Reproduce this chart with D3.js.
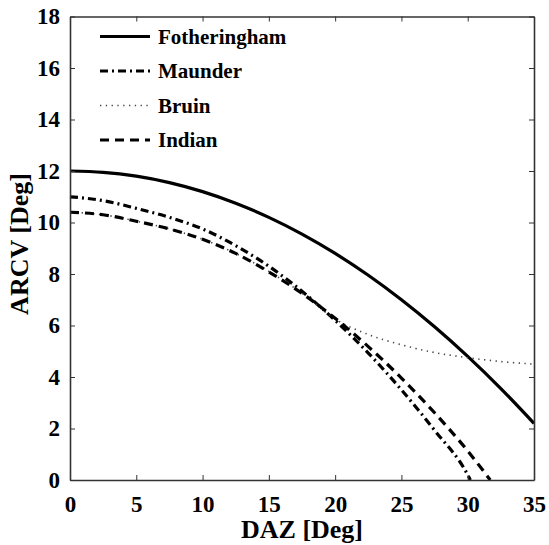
<!DOCTYPE html>
<html>
<head>
<meta charset="utf-8">
<script src="https://cdn.jsdelivr.net/npm/d3@7"></script>
<style>
  body { margin: 0; background: #fff; }
  text { font-family: "Liberation Serif", "Times New Roman", serif; font-weight: bold; }
</style>
</head>
<body>
<script>
// Data (DAZ in degrees -> ARCV in degrees)
var daz = [0, 2.5, 5, 7.5, 10, 12.5, 15, 17.5, 20, 22.5, 25, 27.5, 30, 32.5, 35];
var fotheringham = [12.0, 11.95, 11.8, 11.55, 11.2, 10.75, 10.2, 9.55, 8.8, 7.95, 7.0, 5.95, 4.8, 3.55, 2.2];
var bruin = [10.4, 10.3, 10.05, 9.75, 9.35, 8.8, 8.1, 7.25, 6.25, 5.65, 5.25, 4.95, 4.75, 4.6, 4.5];

var dazMaunder = [0, 2.5, 5, 7.5, 10, 12.5, 15, 17.5, 20, 22.5, 25, 27.5, 30, 30.2];
var maunder = [11.0, 10.85, 10.55, 10.2, 9.75, 9.1, 8.3, 7.33, 6.2, 4.93, 3.5, 1.93, 0.2, 0];

var dazIndian = [0, 2.5, 5, 7.5, 10, 12.5, 15, 17.5, 20, 22.5, 25, 27.5, 30, 31.7];
var indian = [10.4, 10.3, 10.05, 9.75, 9.35, 8.8, 8.08, 7.25, 6.28, 5.18, 3.96, 2.61, 1.13, 0];

var xTicks = [0, 5, 10, 15, 20, 25, 30, 35];
var yTicks = [0, 2, 4, 6, 8, 10, 12, 14, 16, 18];

var seriesNames = ["Fotheringham", "Maunder", "Bruin", "Indian"];

// SVG area
var svgWidth = 549;
var svgHeight = 545;
var margin = { top: 16.5, right: 15, bottom: 65, left: 70 };
var chartWidth = svgWidth - margin.left - margin.right;
var chartHeight = svgHeight - margin.top - margin.bottom;

var svg = d3.select("body")
            .append("svg")
            .attr("width", svgWidth)
            .attr("height", svgHeight);

var chartGroup = svg.append("g")
                    .attr("transform", `translate(${margin.left}, ${margin.top})`);

var x = d3.scaleLinear().domain([0, 35]).range([0, chartWidth]);
var y = d3.scaleLinear().domain([0, 18]).range([chartHeight, 0]);

// line styles per series
var styles = {
  Fotheringham: { width: 3.2, dash: null, color: "#000" },
  Maunder: { width: 3.2, dash: "8,4,2,4", color: "#000" },
  Bruin: { width: 1.6, dash: "1.3,4.5", color: "#444" },
  Indian: { width: 3.2, dash: "9,6", color: "#000" }
};

var seriesData = {
  Fotheringham: daz.map((d, i) => [d, fotheringham[i]]),
  Maunder: dazMaunder.map((d, i) => [d, maunder[i]]),
  Bruin: daz.map((d, i) => [d, bruin[i]]),
  Indian: dazIndian.map((d, i) => [d, indian[i]])
};

var line = d3.line()
             .x(d => x(d[0]))
             .y(d => y(d[1]))
             .curve(d3.curveMonotoneX);

seriesNames.forEach(function(name) {
  chartGroup.append("path")
            .datum(seriesData[name])
            .attr("fill", "none")
            .attr("stroke", styles[name].color)
            .attr("stroke-width", styles[name].width)
            .attr("stroke-dasharray", styles[name].dash)
            .attr("d", line);
});

// axes with inward ticks (box style)
var axisColor = "#333";
var bottomAxis = chartGroup.append("g")
  .attr("transform", "translate(0," + chartHeight + ")")
  .call(d3.axisBottom(x).tickValues(xTicks).tickSizeInner(-5).tickSizeOuter(0).tickPadding(16));
var leftAxis = chartGroup.append("g")
  .call(d3.axisLeft(y).tickValues(yTicks).tickSizeInner(-5).tickSizeOuter(0).tickPadding(10));
var topAxis = chartGroup.append("g")
  .call(d3.axisTop(x).tickValues(xTicks).tickSizeInner(-5).tickSizeOuter(0).tickFormat(""));
var rightAxis = chartGroup.append("g")
  .attr("transform", "translate(" + chartWidth + ",0)")
  .call(d3.axisRight(y).tickValues(yTicks).tickSizeInner(-5).tickSizeOuter(0).tickFormat(""));

[bottomAxis, leftAxis, topAxis, rightAxis].forEach(function(g) {
  g.select(".domain").attr("stroke", axisColor).attr("stroke-width", 1.6);
  g.selectAll(".tick line").attr("stroke", axisColor).attr("stroke-width", 1);
  g.selectAll(".tick text")
   .attr("fill", "#000")
   .style("font-size", "23px")
   .style("font-family", "'Liberation Serif', serif")
   .style("font-weight", "bold");
});
bottomAxis.selectAll(".tick text").attr("dy", "0.71em");

// legend
var legend = chartGroup.append("g")
                       .attr("transform", "translate(30, 0)");
seriesNames.forEach(function(name, i) {
  var ly = 20 + i * 34.5;
  legend.append("line")
        .attr("x1", 0).attr("x2", 50)
        .attr("y1", ly).attr("y2", ly)
        .attr("stroke", styles[name].color)
        .attr("stroke-width", styles[name].width)
        .attr("stroke-dasharray", styles[name].dash);
  legend.append("text")
        .attr("x", 58)
        .attr("y", ly)
        .attr("dy", "0.35em")
        .style("font-size", "21px")
        .text(name);
});

// axis titles
svg.append("text")
   .attr("x", margin.left + chartWidth / 2)
   .attr("y", 538)
   .attr("text-anchor", "middle")
   .style("font-size", "26px")
   .text("DAZ [Deg]");

svg.append("text")
   .attr("transform", "rotate(-90)")
   .attr("x", -244)
   .attr("y", 28)
   .attr("text-anchor", "middle")
   .style("font-size", "26px")
   .text("ARCV [Deg]");
</script>
</body>
</html>
